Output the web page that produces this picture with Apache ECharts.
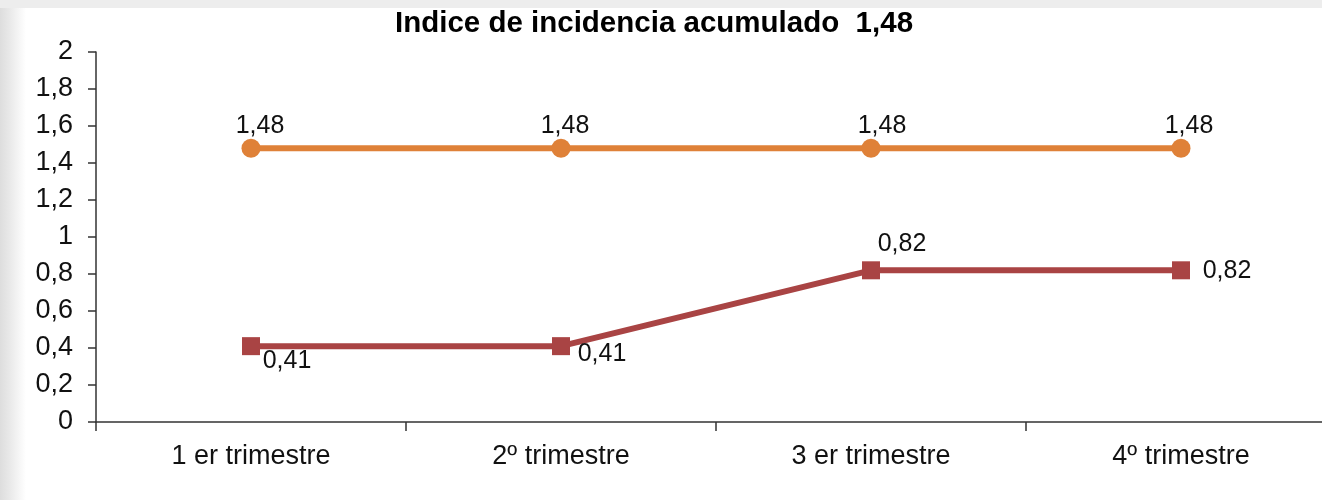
<!DOCTYPE html>
<html>
<head>
<meta charset="utf-8">
<script src="https://cdn.jsdelivr.net/npm/echarts@6/dist/echarts.min.js"></script>
<style>
  html, body { margin: 0; padding: 0; background: #fff; overflow: hidden; width: 1322px; height: 500px; }
  #main { width: 1345px; height: 500px; }
</style>
</head>
<body>
<div id="main"></div>
<script>
// datos del grafico
var categories = ['1 er trimestre', '2º trimestre', '3 er trimestre', '4º trimestre'];
var acumulado = [1.48, 1.48, 1.48, 1.48];
var trimestral = [0.41, 0.41, 0.82, 0.82];
var titleText = 'Indice de incidencia acumulado  1,48';

// desplazamiento de etiquetas (px)
var offAcum = [[9, -22], [4, -22], [11, -22], [8, -22]];
var offTrim = [[36, 15], [41, 8], [31, -26], [46, 1]];

function coma(v) {
  return String(v).replace('.', ',');
}

function buildData(values, offsets) {
  var out = [];
  for (var i = 0; i < values.length; i++) {
    out.push({ value: values[i], label: { offset: offsets[i] } });
  }
  return out;
}

var chart = echarts.init(document.getElementById('main'), null, { renderer: 'canvas' });

var fuente = 'Liberation Sans, Arial, sans-serif';

var labelStyle = {
  show: true,
  position: 'inside',
  color: '#111',
  fontSize: 25,
  fontFamily: fuente,
  formatter: function (p) { return coma(p.value); }
};

chart.setOption({
  backgroundColor: '#ffffff',
  animation: false,
  graphic: [
    // sombra gris a la izquierda y franja arriba
    {
      type: 'rect', z: -10, silent: true,
      shape: { x: 0, y: 0, width: 26, height: 500 },
      style: {
        fill: new echarts.graphic.LinearGradient(0, 0, 1, 0, [
          { offset: 0, color: '#dddddd' },
          { offset: 0.35, color: '#e8e8e8' },
          { offset: 1, color: '#ffffff' }
        ])
      }
    },
    {
      type: 'rect', z: -9, silent: true,
      shape: { x: 0, y: 0, width: 1345, height: 8 },
      style: { fill: '#ededed' }
    }
  ],
  title: {
    text: titleText,
    left: 649,
    textAlign: 'center',
    top: 4,
    textStyle: {
      fontFamily: fuente,
      fontWeight: 'bold',
      fontSize: 29.5,
      color: '#000'
    }
  },
  grid: {
    left: 96,
    top: 52,
    width: 1240,
    height: 370
  },
  xAxis: {
    type: 'category',
    data: categories,
    boundaryGap: true,
    axisLine: { lineStyle: { color: '#333', width: 1.5 } },
    axisTick: { show: true, length: 9, lineStyle: { color: '#333', width: 1.5 } },
    axisLabel: {
      margin: 21,
      color: '#111',
      fontSize: 27,
      fontFamily: fuente
    },
    splitLine: { show: false }
  },
  yAxis: {
    type: 'value',
    min: 0,
    max: 2,
    interval: 0.2,
    axisLine: { show: true, lineStyle: { color: '#333', width: 1.5 } },
    axisTick: { show: true, length: 8, lineStyle: { color: '#333', width: 1.5 } },
    axisLabel: {
      margin: 23,
      color: '#111',
      fontSize: 27,
      fontFamily: fuente,
      formatter: function (v) { return coma(Math.round(v * 10) / 10); }
    },
    splitLine: { show: false }
  },
  series: [
    {
      name: 'Acumulado',
      type: 'line',
      data: buildData(acumulado, offAcum),
      symbol: 'circle',
      symbolSize: 19,
      itemStyle: { color: '#DF8138' },
      lineStyle: { color: '#DF8138', width: 6 },
      label: labelStyle
    },
    {
      name: 'Trimestral',
      type: 'line',
      data: buildData(trimestral, offTrim),
      symbol: 'rect',
      symbolSize: 18,
      itemStyle: { color: '#A94444' },
      lineStyle: { color: '#A94444', width: 6 },
      label: labelStyle
    }
  ]
});
</script>
</body>
</html>
